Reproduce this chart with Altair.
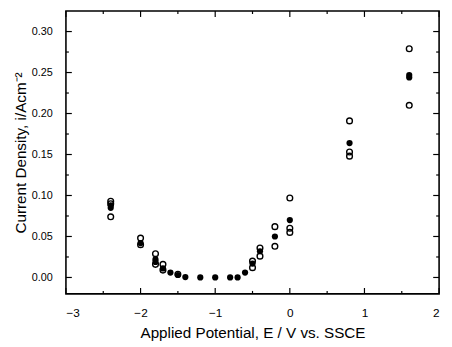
import altair as alt
import pandas as pd

# Filled circles
filled_x = [-2.4, -2.4, -2.0, -1.8, -1.8, -1.7, -1.6, -1.5, -1.4, -1.2, -1.0, -0.8, -0.7, -0.6, -0.5, -0.4, -0.2, 0.0, 0.8, 1.6, 1.6]
filled_y = [0.088, 0.085, 0.042, 0.022, 0.019, 0.011, 0.006, 0.003, 0.0005, 0.0, 0.0, 0.0, 0.0, 0.006, 0.017, 0.032, 0.050, 0.070, 0.164, 0.244, 0.247]
# Open circles
open_x = [-2.4, -2.4, -2.4, -2.0, -2.0, -1.8, -1.8, -1.7, -1.7, -1.5, -0.5, -0.5, -0.4, -0.4, -0.2, -0.2, 0.0, 0.0, 0.0, 0.8, 0.8, 0.8, 1.6, 1.6]
open_y = [0.093, 0.090, 0.074, 0.048, 0.040, 0.029, 0.016, 0.016, 0.009, 0.004, 0.020, 0.012, 0.036, 0.026, 0.062, 0.038, 0.097, 0.060, 0.055, 0.191, 0.153, 0.148, 0.279, 0.210]

x_major = [-3, -2, -1, 0, 1, 2]
x_minor = [-2.5, -1.5, -0.5, 0.5, 1.5]
y_major = [0.0, 0.05, 0.10, 0.15, 0.20, 0.25, 0.30]
y_minor = [0.025, 0.075, 0.125, 0.175, 0.225, 0.275]

W, H = 380, 288
XDOM = [-3, 2]
YDOM = [-0.02, 0.325]
FONT = "Liberation Sans"

df = pd.concat([
    pd.DataFrame({"E": open_x, "i": open_y, "kind": "open"}),
    pd.DataFrame({"E": filled_x, "i": filled_y, "kind": "filled"}),
], ignore_index=True)

xs = alt.Scale(domain=XDOM, nice=False, zero=False)
ys = alt.Scale(domain=YDOM, nice=False, zero=False)

AX = alt.Axis(
    values=x_major, ticks=False, domain=False, grid=False,
    labelPadding=14, labelFont=FONT, labelFontSize=12, labelColor="black",
    title="Applied Potential, E / V vs. SSCE", titleFont=FONT, titleFontSize=15.5,
    titleFontWeight="normal", titleColor="black", titlePadding=7,
    labelExpr="datum.value < 0 ? '\u2212' + abs(datum.value) : datum.label")
AY = alt.Axis(
    values=y_major, ticks=False, domain=False, grid=False, format=".2f",
    labelPadding=14, labelFont=FONT, labelFontSize=11, labelColor="black",
    title="Current Density, i/Acm\u207b\u00b2", titleFont=FONT, titleFontSize=15.5,
    titleFontWeight="normal", titleColor="black", titlePadding=3)

base = alt.Chart(df)

open_layer = base.transform_filter(alt.datum.kind == "open").mark_point(
    shape="circle", filled=False, color="black", strokeWidth=1.4, size=34, opacity=1
).encode(
    x=alt.X("E:Q", scale=xs, axis=AX),
    y=alt.Y("i:Q", scale=ys, axis=AY),
)

filled_layer = base.transform_filter(alt.datum.kind == "filled").mark_point(
    shape="circle", filled=True, color="black", size=40, opacity=1
).encode(
    x=alt.X("E:Q", scale=xs, axis=None),
    y=alt.Y("i:Q", scale=ys, axis=None),
)

# tick lengths converted to data units (inward ticks on all four sides)
dy_unit = (YDOM[1] - YDOM[0]) / H
dx_unit = (XDOM[1] - XDOM[0]) / W


def x_ticks(vals, length, edge, direction):
    d = pd.DataFrame({"t": vals})
    return alt.Chart(d).transform_calculate(
        a=str(edge), b=str(edge + direction * length * dy_unit)
    ).mark_rule(color="black", strokeWidth=1.2).encode(
        x=alt.X("t:Q", scale=xs, axis=None),
        y=alt.Y("a:Q", scale=ys, axis=None),
        y2="b:Q",
    )


def y_ticks(vals, length, edge, direction):
    d = pd.DataFrame({"t": vals})
    return alt.Chart(d).transform_calculate(
        a=str(edge), b=str(edge + direction * length * dx_unit)
    ).mark_rule(color="black", strokeWidth=1.2).encode(
        y=alt.Y("t:Q", scale=ys, axis=None),
        x=alt.X("a:Q", scale=xs, axis=None),
        x2="b:Q",
    )


layers = [open_layer, filled_layer]
for edge, direction in [(YDOM[0], 1), (YDOM[1], -1)]:
    layers.append(x_ticks(x_major, 6, edge, direction))
    layers.append(x_ticks(x_minor, 3, edge, direction))
for edge, direction in [(XDOM[0], 1), (XDOM[1], -1)]:
    layers.append(y_ticks(y_major, 6, edge, direction))
    layers.append(y_ticks(y_minor, 3, edge, direction))

chart = alt.layer(*layers).resolve_axis(x="independent", y="independent").properties(
    width=W, height=H,
    autosize=alt.AutoSizeParams(type="none"),
    padding={"left": 59, "top": 0, "right": 5, "bottom": 51},
    background="white",
).configure_view(stroke="black", strokeWidth=1.6)

chart.save("out.html", embed_options={"renderer": "svg", "actions": False})
